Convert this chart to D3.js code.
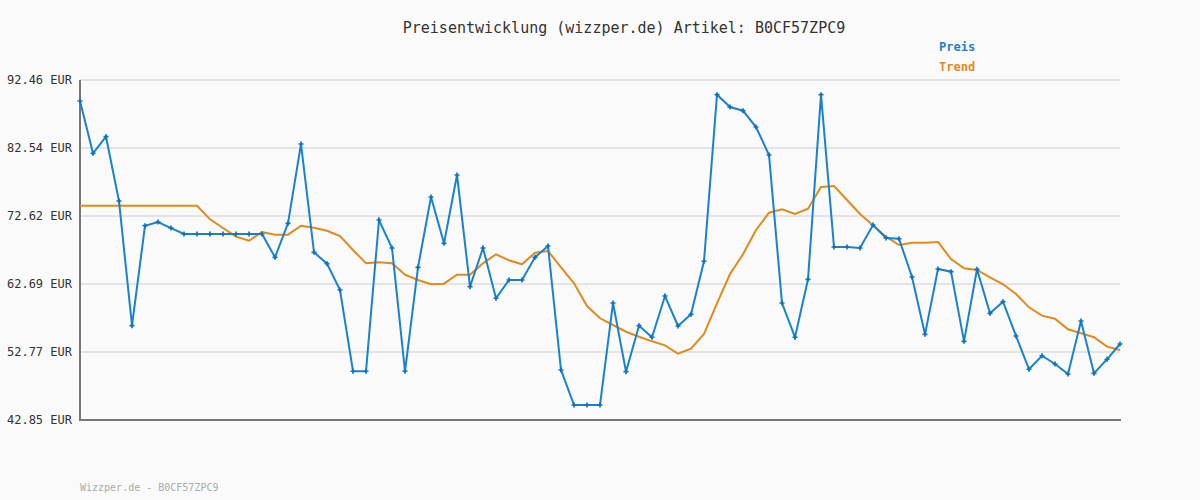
<!DOCTYPE html>
<html><head><meta charset="utf-8">
<script src="https://cdn.jsdelivr.net/npm/d3@7"></script>
<style>body{margin:0;background:#fafafa}svg{display:block}</style></head>
<body><svg id="c" width="1200" height="500"></svg>
<script>
const title = "Preisentwicklung (wizzper.de) Artikel: B0CF57ZPC9";
const footer = "Wizzper.de - B0CF57ZPC9";
const yTicks = [42.85, 52.77, 62.69, 72.62, 82.54, 92.46];
const preis = [89.40,81.76,84.19,74.80,56.61,71.20,71.74,70.86,69.99,69.99,69.99,69.99,69.99,69.99,69.99,66.59,71.55,83.12,67.32,65.66,61.82,49.96,49.96,72.03,67.95,49.96,65.13,75.39,68.63,78.60,62.30,67.95,60.61,63.28,63.28,66.59,68.24,50.15,45.04,45.04,45.04,59.92,49.90,56.61,54.92,60.94,56.57,58.27,66.01,90.32,88.52,87.98,85.60,81.52,59.92,54.92,63.38,90.32,68.09,68.09,67.95,71.30,69.41,69.30,63.72,55.35,64.88,64.49,54.33,64.84,58.42,60.11,55.11,50.25,52.23,51.02,49.56,57.30,49.66,51.71,53.94];
const trend = [74.12,74.12,74.12,74.12,74.12,74.12,74.12,74.12,74.12,74.12,72.13,70.86,69.60,69.01,70.28,69.89,69.89,71.20,70.91,70.47,69.70,67.66,65.71,65.86,65.71,64.05,63.28,62.65,62.74,64.05,64.05,65.71,67.03,66.15,65.57,67.26,67.51,65.13,62.80,59.48,57.69,56.71,55.73,55.00,54.33,53.75,52.52,53.25,55.40,59.88,64.15,67.03,70.57,73.10,73.59,72.91,73.68,76.85,76.99,74.95,72.91,71.26,69.60,68.38,68.72,68.72,68.82,66.34,64.98,64.74,63.67,62.65,61.24,59.29,58.07,57.63,56.08,55.50,54.92,53.55,53.06];

const svg = d3.select("#c");
const font = "'DejaVu Sans Mono', monospace";
svg.append("rect").attr("width",1200).attr("height",500).attr("fill","#fafafa");
const x = d3.scaleLinear().domain([0, preis.length-1]).range([80,1120]);
const y = d3.scaleLinear().domain([42.85, 92.46]).range([420,80]);

svg.append("g").selectAll("line").data(yTicks).join("line")
  .attr("x1",80).attr("x2",1120).attr("y1",d=>y(d)).attr("y2",d=>y(d))
  .attr("stroke","#e4e4e4").attr("stroke-width",2);
svg.append("g").selectAll("text").data(yTicks).join("text")
  .attr("x",72).attr("y",d=>y(d)+4).attr("text-anchor","end")
  .attr("font-family",font).attr("font-size",12).attr("fill","#333")
  .text(d=>d.toFixed(2)+" EUR");
svg.append("line").attr("x1",80).attr("x2",80).attr("y1",80).attr("y2",421).attr("stroke","#777").attr("stroke-width",2);
svg.append("line").attr("x1",79).attr("x2",1121).attr("y1",420).attr("y2",420).attr("stroke","#777").attr("stroke-width",2);

const line = d3.line().x((d,i)=>x(i)).y(d=>y(d));
svg.append("path").datum(trend).attr("d",line).attr("fill","none").attr("stroke","#e08a1e").attr("stroke-width",2);
svg.append("path").datum(preis).attr("d",line).attr("fill","none").attr("stroke","#1a82cc").attr("stroke-width",2);
svg.append("g").selectAll("path").data(preis).join("path")
  .attr("d", d3.symbol(d3.symbolCross, 14))
  .attr("transform",(d,i)=>`translate(${x(i)},${y(d)})`).attr("fill","#1072bd");

svg.append("text").attr("x",624).attr("y",33).attr("text-anchor","middle")
  .attr("font-family",font).attr("font-size",15).attr("fill","#333").text(title);
svg.append("text").attr("x",939).attr("y",51).attr("font-family",font).attr("font-size",12)
  .attr("font-weight","bold").attr("fill","#1a82cc").text("Preis");
svg.append("text").attr("x",939).attr("y",71).attr("font-family",font).attr("font-size",12)
  .attr("font-weight","bold").attr("fill","#e08a1e").text("Trend");
svg.append("text").attr("x",80).attr("y",491).attr("font-family",font).attr("font-size",10)
  .attr("fill","#aaa").text(footer);
</script></body></html>
